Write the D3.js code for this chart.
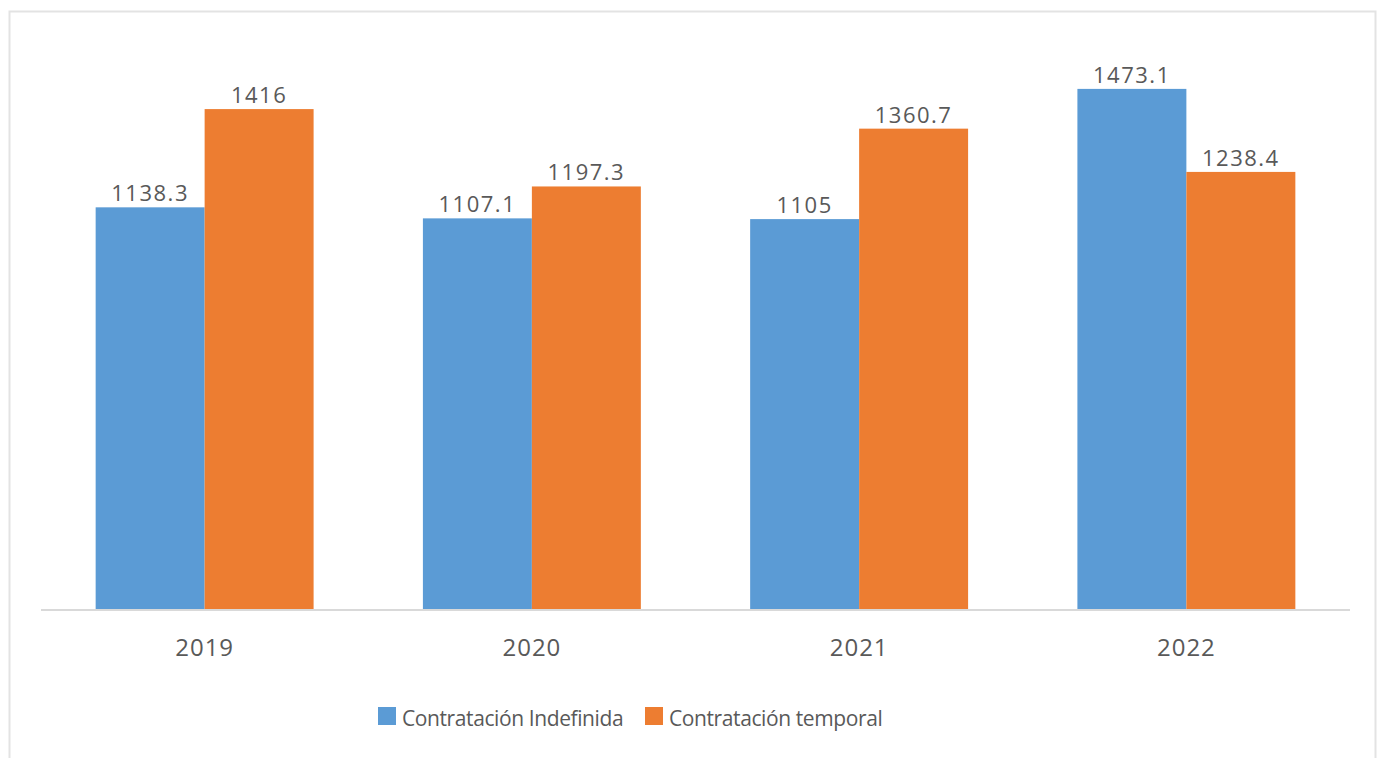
<!DOCTYPE html>
<html>
<head>
<meta charset="utf-8">
<script src="https://cdn.jsdelivr.net/npm/d3@7"></script>
<style>
  html, body { margin: 0; padding: 0; background: #fff; }
  svg text { font-family: "Open Sans", "Noto Sans", sans-serif; fill: #595959; }
</style>
</head>
<body>
<svg id="chart" width="1386" height="758"></svg>
<script>
// data
const years = ['2019', '2020', '2021', '2022'];
const indefinida = [1138.3, 1107.1, 1105, 1473.1];
const temporal = [1416, 1197.3, 1360.7, 1238.4];
const seriesNames = ['Contratación Indefinida', 'Contratación temporal'];
const seriesColors = ['#5b9bd5', '#ed7d31'];

const svg = d3.select('#chart');

// outer frame
svg.append('rect')
  .attr('x', 9.5).attr('y', 11.5)
  .attr('width', 1366).attr('height', 760)
  .attr('fill', '#fff')
  .attr('stroke', '#e3e3e3')
  .attr('stroke-width', 2);

const margin = { left: 41, right: 36, top: 44, bottom: 148 };
const width = 1386, height = 758;

const x0 = d3.scaleBand()
  .domain(years)
  .range([margin.left, width - margin.right])
  .paddingInner(0.334)
  .paddingOuter(0.167);

const x1 = d3.scaleBand()
  .domain([0, 1])
  .range([0, x0.bandwidth()]);

const y = d3.scaleLinear()
  .domain([0, 1600])
  .range([height - margin.bottom, margin.top]);

const rows = years.map((yr, i) => ({ year: yr, vals: [indefinida[i], temporal[i]] }));

const groups = svg.selectAll('g.year')
  .data(rows)
  .enter().append('g')
  .attr('class', 'year')
  .attr('transform', d => `translate(${x0(d.year)},0)`);

groups.selectAll('rect')
  .data(d => d.vals.map((v, k) => ({ v, k })))
  .enter().append('rect')
  .attr('x', d => x1(d.k))
  .attr('y', d => y(d.v))
  .attr('width', x1.bandwidth())
  .attr('height', d => y(0) - y(d.v))
  .attr('fill', d => seriesColors[d.k]);

groups.selectAll('text.val')
  .data(d => d.vals.map((v, k) => ({ v, k })))
  .enter().append('text')
  .attr('class', 'val')
  .attr('x', d => x1(d.k) + x1.bandwidth() / 2)
  .attr('y', d => y(d.v) - 6)
  .attr('text-anchor', 'middle')
  .style('font-size', '22px')
  .style('letter-spacing', '1.5px')
  .text(d => d.v);

// x axis
const xAxis = svg.append('g')
  .attr('transform', `translate(0,${y(0)})`)
  .call(d3.axisBottom(x0).tickSize(0).tickPadding(29))
  .call(g => g.select('.domain').attr('stroke', '#d9d9d9').attr('stroke-width', 2)
    .attr('d', `M${margin.left},0H${width - margin.right}`));
xAxis.selectAll('text')
  .style('font-size', '24px')
  .style('letter-spacing', '1px')
  .attr('fill', '#595959');

// legend
const legend = svg.append('g').attr('transform', 'translate(378,707)');
const legendX = [0, 267];
seriesNames.forEach((name, i) => {
  const g = legend.append('g').attr('transform', `translate(${legendX[i]},0)`);
  g.append('rect').attr('width', 18).attr('height', 18).attr('fill', seriesColors[i]);
  g.append('text').attr('x', 24).attr('y', 19)
    .style('font-size', '21px')
    .style('letter-spacing', '-0.4px')
    .text(name);
});
</script>
</body>
</html>
